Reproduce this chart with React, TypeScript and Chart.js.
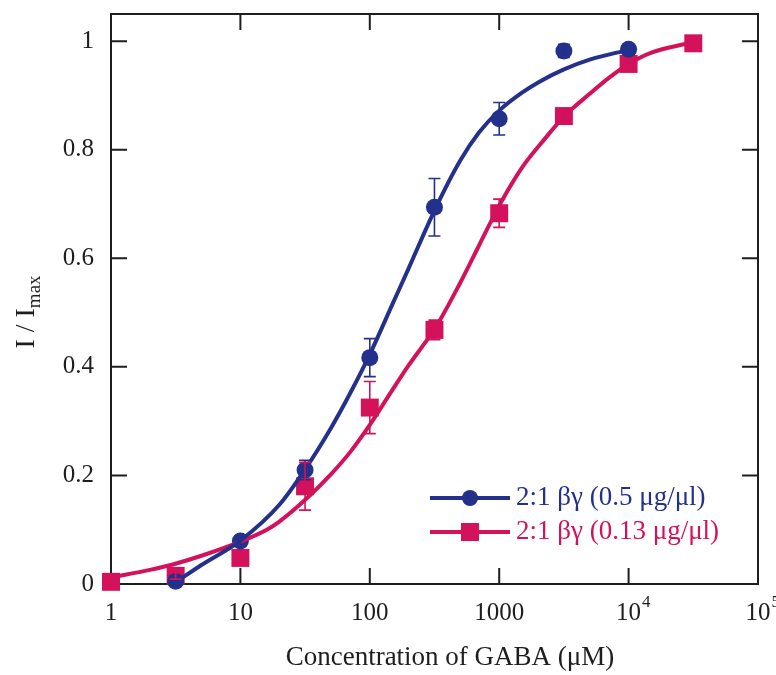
import React, { useEffect, useRef } from "react";
import { Chart, registerables } from "chart.js";

Chart.register(...registerables);

const BLUE = "#23318c";
const RED = "#d4115b";
const INK = "#1e1e1e";
const FONT = "'Liberation Serif', 'DejaVu Serif', serif";

// measured points
const blueX = [3.16, 10, 31.6, 100, 316, 1000, 3162, 10000];
const blueY = [0.005, 0.079, 0.21, 0.417, 0.694, 0.857, 0.982, 0.985];
const blueErr = [0.004, 0.01, 0.018, 0.035, 0.053, 0.03, 0.012, 0.008];

const redX = [1, 3.16, 10, 31.6, 100, 316, 1000, 3162, 10000, 31623];
const redY = [0.004, 0.015, 0.048, 0.18, 0.325, 0.468, 0.683, 0.862, 0.958, 0.996];
const redErr = [0.004, 0.006, 0.008, 0.044, 0.048, 0.018, 0.026, 0.01, 0.008, 0.006];

// fitted curves
const blueFitX = [3.2, 5, 10, 20, 32, 50, 70, 100, 150, 200, 316, 500, 700, 1000, 1500, 2000, 3162, 5000, 10000];
const blueFitY = [0.004, 0.035, 0.08, 0.146, 0.213, 0.287, 0.35, 0.423, 0.516, 0.582, 0.688, 0.78, 0.832, 0.872, 0.905, 0.924, 0.948, 0.966, 0.984];

const redFitX = [1, 2, 3, 5, 10, 16, 20, 32, 50, 70, 100, 150, 200, 250, 316, 500, 700, 1000, 1500, 2250, 3162, 5000, 7000, 10000, 15000, 30000];
const redFitY = [0.012, 0.026, 0.036, 0.052, 0.078, 0.1, 0.115, 0.156, 0.202, 0.242, 0.293, 0.358, 0.403, 0.435, 0.469, 0.555, 0.624, 0.697, 0.767, 0.82, 0.861, 0.903, 0.932, 0.958, 0.979, 0.997];

// axis ticks
const xTicks = [1, 10, 100, 1000, 10000, 100000];
const xTickLabels = [["1", ""], ["10", ""], ["100", ""], ["1000", ""], ["10", "4"], ["10", "5"]];
const yTicks = [0, 0.2, 0.4, 0.6, 0.8, 1];
const yTickLabels = ["0", "0.2", "0.4", "0.6", "0.8", "1"];

const legendLabels = ["2:1 βγ (0.5 μg/μl)", "2:1 βγ (0.13 μg/μl)"];
const xTitle = "Concentration of GABA (μM)";

const zip = (xs: number[], ys: number[]) => xs.map((v, i) => ({ x: v, y: ys[i] }));

const axesPlugin = {
  id: "customAxes",
  beforeDatasetsDraw(chart: any) {
    const { ctx, chartArea: a, scales } = chart;
    const x = scales.x;
    const y = scales.y;
    ctx.save();
    ctx.strokeStyle = INK;
    ctx.lineWidth = 2;
    ctx.strokeRect(a.left, a.top, a.right - a.left, a.bottom - a.top);
    const T = 16;
    ctx.beginPath();
    xTicks.forEach((v) => {
      const px = x.getPixelForValue(v);
      ctx.moveTo(px, a.bottom);
      ctx.lineTo(px, a.bottom - T);
      ctx.moveTo(px, a.top);
      ctx.lineTo(px, a.top + T);
    });
    yTicks.forEach((v) => {
      const py = y.getPixelForValue(v);
      ctx.moveTo(a.left, py);
      ctx.lineTo(a.left + T, py);
      ctx.moveTo(a.right, py);
      ctx.lineTo(a.right - T, py);
    });
    ctx.stroke();

    ctx.fillStyle = INK;
    ctx.font = `25px ${FONT}`;
    ctx.textBaseline = "middle";
    ctx.textAlign = "right";
    yTicks.forEach((v, i) => {
      ctx.fillText(yTickLabels[i], a.left - 17, y.getPixelForValue(v));
    });
    xTicks.forEach((v, i) => {
      const px = x.getPixelForValue(v);
      const [base, sup] = xTickLabels[i];
      ctx.font = `25px ${FONT}`;
      ctx.textAlign = "center";
      ctx.fillText(base, px, a.bottom + 29);
      if (sup) {
        const w = ctx.measureText(base).width;
        ctx.font = `17px ${FONT}`;
        ctx.textAlign = "left";
        ctx.fillText(sup, px + w / 2 + 1, a.bottom + 19);
      }
    });

    // x title
    ctx.font = `27px ${FONT}`;
    ctx.textAlign = "center";
    ctx.fillText(xTitle, 450, 658);

    // y title (rotated) I / I_max
    ctx.save();
    ctx.translate(27, 312);
    ctx.rotate(-Math.PI / 2);
    const main = "I / I";
    ctx.font = `19px ${FONT}`;
    const subW = ctx.measureText("max").width;
    ctx.font = `28px ${FONT}`;
    const mainW = ctx.measureText(main).width;
    const start = -(mainW + subW) / 2;
    ctx.textAlign = "left";
    ctx.fillText(main, start, 0);
    ctx.font = `19px ${FONT}`;
    ctx.fillText("max", start + mainW, 8);
    ctx.restore();

    ctx.restore();
  },
  afterDatasetsDraw(chart: any) {
    const { ctx, scales } = chart;
    const x = scales.x;
    const y = scales.y;
    const drawErr = (xs: number[], ys: number[], es: number[], color: string) => {
      ctx.save();
      ctx.strokeStyle = color;
      ctx.lineWidth = 1.6;
      ctx.beginPath();
      xs.forEach((v, i) => {
        const px = x.getPixelForValue(v);
        const top = y.getPixelForValue(ys[i] + es[i]);
        const bot = y.getPixelForValue(ys[i] - es[i]);
        ctx.moveTo(px, top);
        ctx.lineTo(px, bot);
        ctx.moveTo(px - 6, top);
        ctx.lineTo(px + 6, top);
        ctx.moveTo(px - 6, bot);
        ctx.lineTo(px + 6, bot);
      });
      ctx.stroke();
      ctx.restore();
    };
    drawErr(blueX, blueY, blueErr, BLUE);
    drawErr(redX, redY, redErr, RED);

    // legend
    ctx.save();
    const lx0 = 430;
    const lx1 = 510;
    const rows = [
      { yy: 498, color: BLUE, label: legendLabels[0], circle: true },
      { yy: 532, color: RED, label: legendLabels[1], circle: false },
    ];
    rows.forEach((r) => {
      ctx.strokeStyle = r.color;
      ctx.lineWidth = 4;
      ctx.beginPath();
      ctx.moveTo(lx0, r.yy);
      ctx.lineTo(lx1, r.yy);
      ctx.stroke();
      ctx.fillStyle = r.color;
      ctx.beginPath();
      if (r.circle) {
        ctx.arc(470, r.yy, 8, 0, Math.PI * 2);
      } else {
        ctx.rect(470 - 9, r.yy - 9, 18, 18);
      }
      ctx.fill();
      ctx.font = `27px ${FONT}`;
      ctx.textAlign = "left";
      ctx.textBaseline = "middle";
      ctx.fillText(r.label, 516, r.yy);
    });
    ctx.restore();
  },
};

export default function App() {
  const ref = useRef<HTMLCanvasElement | null>(null);
  useEffect(() => {
    if (!ref.current) return;
    const chart = new Chart(ref.current, {
      type: "line",
      data: {
        datasets: [
          {
            data: zip(blueFitX, blueFitY),
            borderColor: BLUE,
            borderWidth: 4,
            pointRadius: 0,
            cubicInterpolationMode: "monotone",
            clip: false,
          } as any,
          {
            data: zip(redFitX, redFitY),
            borderColor: RED,
            borderWidth: 4,
            pointRadius: 0,
            cubicInterpolationMode: "monotone",
            clip: false,
          } as any,
          {
            data: zip(blueX, blueY),
            showLine: false,
            pointStyle: "circle",
            pointRadius: 8.5,
            pointBackgroundColor: BLUE,
            pointBorderColor: BLUE,
            pointBorderWidth: 0,
            clip: false,
          } as any,
          {
            data: zip(redX, redY),
            showLine: false,
            pointStyle: "rect",
            pointRadius: 12.7,
            pointBackgroundColor: RED,
            pointBorderColor: RED,
            pointBorderWidth: 0,
            clip: false,
          } as any,
        ],
      },
      options: {
        responsive: false,
        animation: false,
        layout: { padding: { left: 111, top: 14, right: 18, bottom: 91 } },
        plugins: { legend: { display: false }, tooltip: { enabled: false } },
        scales: {
          x: { type: "logarithmic", min: 1, max: 100000, display: false },
          y: { type: "linear", min: 0, max: 1.05, display: false },
        },
      },
      plugins: [axesPlugin],
    });
    return () => chart.destroy();
  }, []);
  return (
    <div style={{ position: "fixed", left: 0, top: 0, width: 776, height: 675, background: "#fff" }}>
      <canvas ref={ref} width={776} height={675} style={{ width: 776, height: 675 }} />
    </div>
  );
}
